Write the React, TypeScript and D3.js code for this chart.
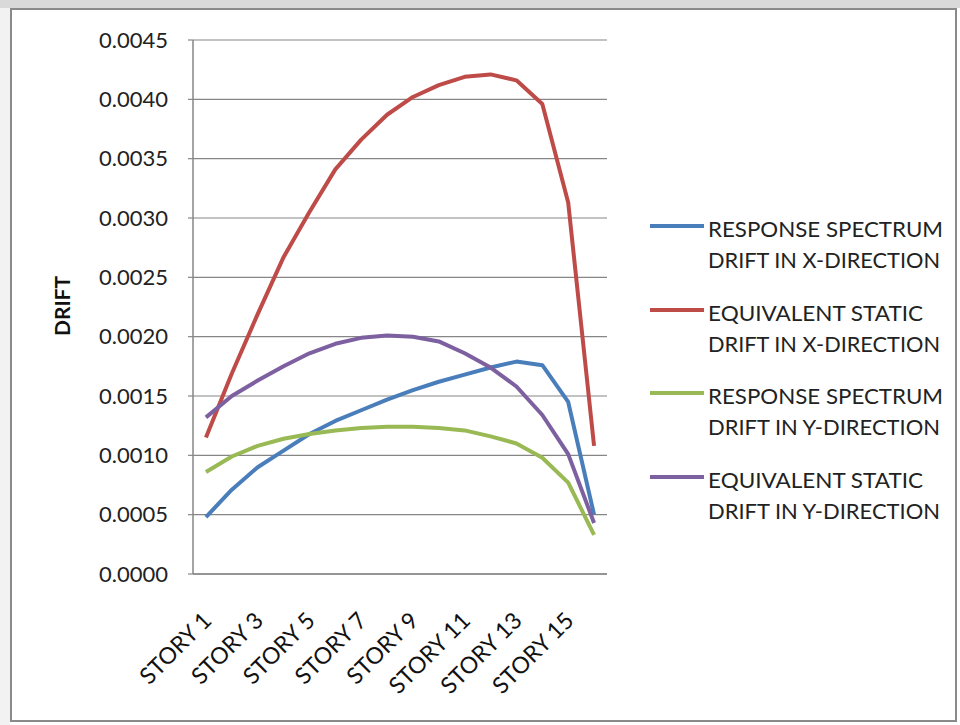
import React from "react";
import * as d3 from "d3";

const stories = Array.from({ length: 16 }, (_, i) => `STORY ${i + 1}`);
const yTicks = [0, 0.0005, 0.001, 0.0015, 0.002, 0.0025, 0.003, 0.0035, 0.004, 0.0045];

const rsX = [0.00048, 0.00071, 0.0009, 0.00104, 0.00118, 0.00129, 0.00138, 0.00147, 0.00155, 0.00162, 0.00168, 0.00174, 0.00179, 0.00176, 0.00145, 0.0005];
const esX = [0.00115, 0.00169, 0.00219, 0.00267, 0.00305, 0.00341, 0.00366, 0.00387, 0.00402, 0.00412, 0.00419, 0.00421, 0.00416, 0.00396, 0.00313, 0.00108];
const rsY = [0.00086, 0.00099, 0.00108, 0.00114, 0.00118, 0.00121, 0.00123, 0.00124, 0.00124, 0.00123, 0.00121, 0.00116, 0.0011, 0.00098, 0.00077, 0.00033];
const esY = [0.00132, 0.0015, 0.00163, 0.00175, 0.00186, 0.00194, 0.00199, 0.00201, 0.002, 0.00196, 0.00186, 0.00174, 0.00158, 0.00134, 0.00101, 0.00043];

const seriesNames = [
  ["RESPONSE SPECTRUM", "DRIFT IN X-DIRECTION"],
  ["EQUIVALENT STATIC", "DRIFT IN X-DIRECTION"],
  ["RESPONSE SPECTRUM", "DRIFT IN Y-DIRECTION"],
  ["EQUIVALENT STATIC", "DRIFT IN Y-DIRECTION"],
];
const seriesValues = [rsX, esX, rsY, esY];
const colors = ["#4a7ebb", "#be4b48", "#98b954", "#7d60a0"];

const W = 960, H = 725;
const L = 193, R = 607, T = 40, B = 574;
const FONT = "Lato, 'Open Sans', sans-serif";

export default function App() {
  const x = d3.scaleBand<string>().domain(stories).range([L, R]);
  const y = d3.scaleLinear().domain([0, 0.0045]).range([B, T]);
  const cx = (i: number) => (x(stories[i]) as number) + x.bandwidth() / 2;
  const line = d3.line<number>().x((_, i) => cx(i)).y((d) => y(d));

  const legendY = [226, 310, 393, 477];
  const legendWidths = [[235, 232], [215, 232], [235, 232], [215, 232]];

  return (
    <svg width={W} height={H} style={{ position: "absolute", left: 0, top: 0, background: "#fff" }}>
      <rect x={0} y={0} width={W} height={8} fill="#d9d9d9" />
      <rect x={0} y={8} width={10} height={H - 8} fill="#f2f2f2" />
      <rect x={11} y={9} width={945} height={712} fill="#fff" stroke="#8a8a8a" strokeWidth={2} />

      {yTicks.map((t) => (
        <g key={t}>
          <line x1={L} x2={R} y1={y(t)} y2={y(t)} stroke="#868686" strokeWidth={1.2} />
          <line x1={L - 5} x2={L} y1={y(t)} y2={y(t)} stroke="#868686" strokeWidth={1.2} />
          <text x={168} y={y(t)} dy="0.35em" textAnchor="end" fontFamily={FONT} fontSize={22} fill="#222">
            {d3.format(".4f")(t)}
          </text>
        </g>
      ))}
      <line x1={L} x2={L} y1={T} y2={B} stroke="#868686" strokeWidth={1.5} />
      <line x1={L} x2={R} y1={B} y2={B} stroke="#868686" strokeWidth={1.5} />

      <text transform="translate(70,306) rotate(-90)" textAnchor="middle" fontFamily={FONT} fontWeight="bold" fontSize={21} fill="#111">
        DRIFT
      </text>

      {stories.map((s, i) =>
        i % 2 === 0 ? (
          <text key={s} transform={`translate(${cx(i) + 7},622) rotate(-45)`} textAnchor="end" fontFamily={FONT} fontSize={23} fill="#111">
            {s}
          </text>
        ) : null
      )}

      {seriesValues.map((vals, k) => (
        <path key={k} d={line(vals) as string} fill="none" stroke={colors[k]} strokeWidth={4} strokeLinejoin="round" />
      ))}

      {seriesNames.map((names, k) => (
        <g key={k}>
          <line x1={650} x2={704} y1={legendY[k]} y2={legendY[k]} stroke={colors[k]} strokeWidth={4} />
          <text x={708} y={legendY[k] + 11} fontFamily={FONT} fontSize={22} fill="#222" textLength={legendWidths[k][0]} lengthAdjust="spacingAndGlyphs">
            {names[0]}
          </text>
          <text x={708} y={legendY[k] + 42} fontFamily={FONT} fontSize={22} fill="#222" textLength={legendWidths[k][1]} lengthAdjust="spacingAndGlyphs">
            {names[1]}
          </text>
        </g>
      ))}
    </svg>
  );
}
